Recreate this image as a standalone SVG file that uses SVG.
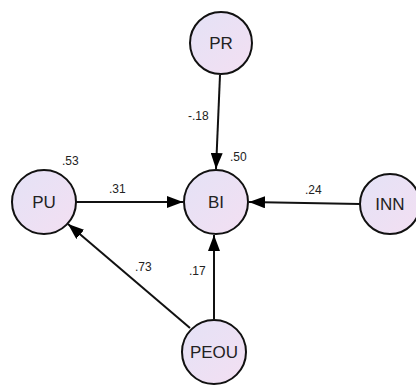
<svg xmlns="http://www.w3.org/2000/svg" width="416" height="386" viewBox="0 0 416 386">
<defs>
<linearGradient id="g" x1="0" y1="0" x2="1" y2="1">
<stop offset="0" stop-color="#e4e2f6"/>
<stop offset="1" stop-color="#f3dff2"/>
</linearGradient>
<marker id="ah" markerWidth="16" markerHeight="12" refX="16" refY="6" orient="auto" markerUnits="userSpaceOnUse">
<path d="M0,0 L16,6 L0,12 Z" fill="#000"/>
</marker>
<style>
.n{fill:url(#g);stroke:#111;stroke-width:2}
.t{font-family:"Liberation Sans",Arial,sans-serif;font-size:17px;fill:#222;text-anchor:middle;dominant-baseline:central}
.c{stroke:#111;stroke-width:2;fill:none;marker-end:url(#ah)}
.l{font-family:"Liberation Sans",Arial,sans-serif;font-size:12px;fill:#222}
</style>
</defs>
<rect width="416" height="386" fill="#fff"/>
<g id="connectors">
<line class="c" x1="220" y1="75" x2="216" y2="169"/>
<line class="c" x1="76" y1="202" x2="183" y2="202"/>
<line class="c" x1="360" y1="204" x2="249" y2="202"/>
<line class="c" x1="214" y1="319" x2="214" y2="235"/>
<line class="c" x1="190" y1="328" x2="68" y2="224"/>
</g>
<g id="labels">
<text class="l" x="62" y="165">.53</text>
<text class="l" x="109" y="193">.31</text>
<text class="l" x="230" y="161">.50</text>
<text class="l" x="188" y="120">-.18</text>
<text class="l" x="305" y="194">.24</text>
<text class="l" x="135" y="271">.73</text>
<text class="l" x="189" y="275">.17</text>
</g>
<g id="PR"><circle class="n" cx="221" cy="43" r="31"/><text class="t" x="221" y="43">PR</text></g>
<g id="PU"><circle class="n" cx="44" cy="202" r="32"/><text class="t" x="44" y="202">PU</text></g>
<g id="BI"><circle class="n" cx="216" cy="202" r="32"/><text class="t" x="216" y="202">BI</text></g>
<g id="INN"><circle class="n" cx="390" cy="204" r="30"/><text class="t" x="390" y="204">INN</text></g>
<g id="PEOU"><circle class="n" cx="214" cy="352" r="32"/><text class="t" x="214" y="352">PEOU</text></g>
</svg>
